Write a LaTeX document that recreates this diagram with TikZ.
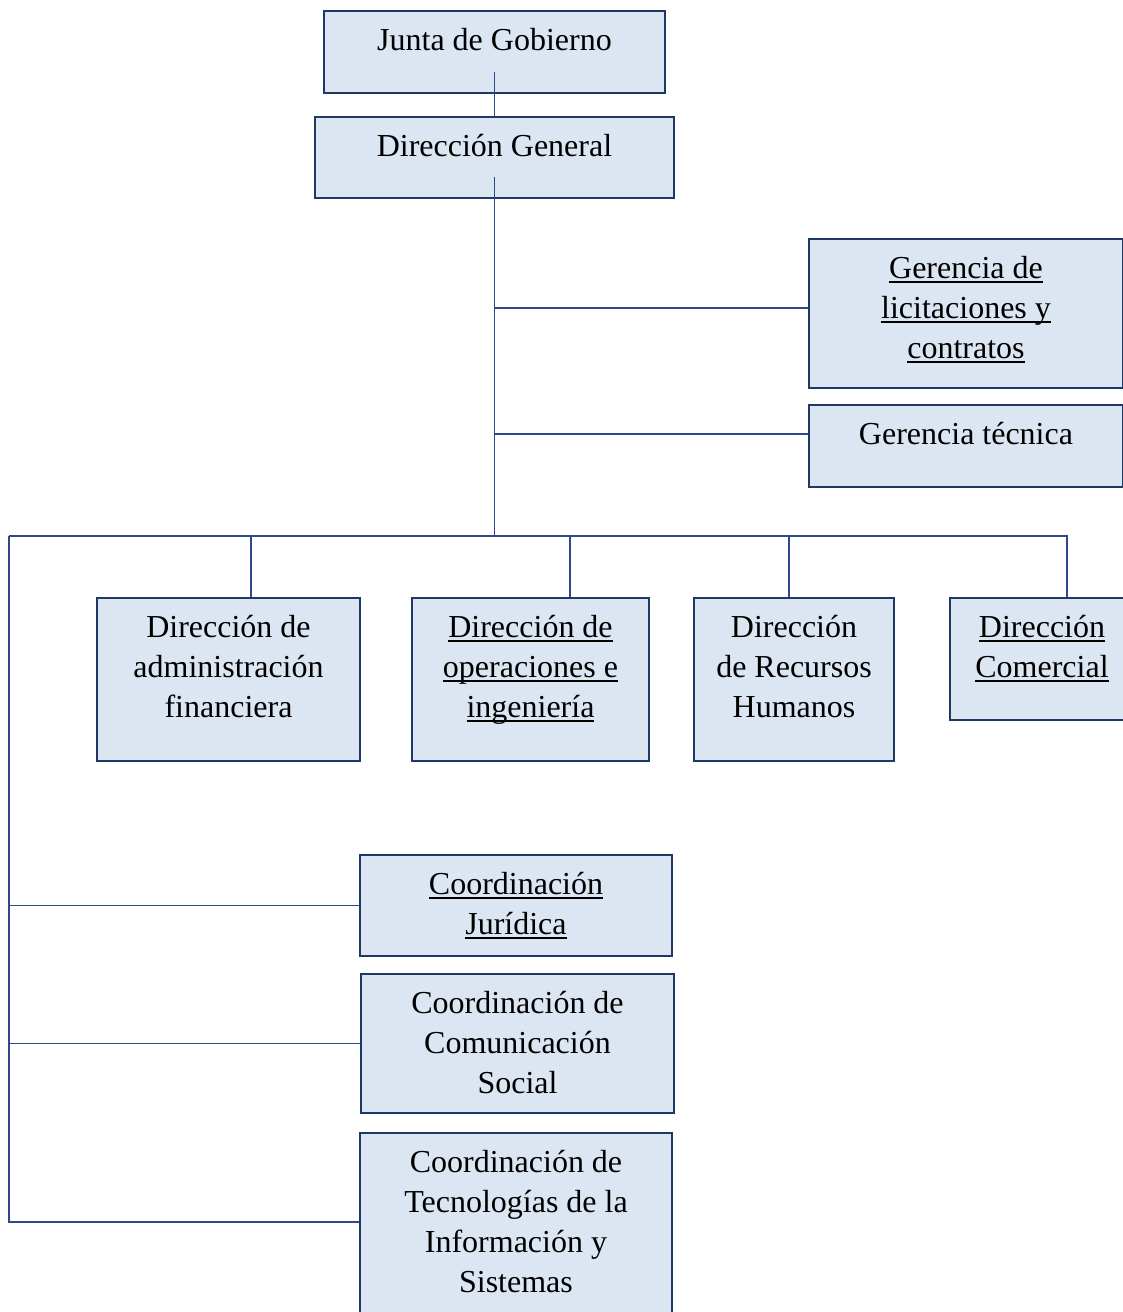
\documentclass[tikz,border=0pt]{standalone}
\usepackage{fontspec}
\setmainfont{Liberation Serif}
\usepackage{tikz}
\definecolor{boxfill}{RGB}{220,230,242}
\definecolor{boxdraw}{RGB}{31,56,100}
\definecolor{linkcol}{RGB}{47,72,140}
\newcommand{\ulin}[1]{\leavevmode\setbox0\hbox{#1}\rlap{\rule[-2.5pt]{\wd0}{0.9pt}}\box0}
\tikzset{orgbox/.style={draw=boxdraw,fill=boxfill,line width=1pt,anchor=north west,align=flush center,
    inner xsep=2pt,inner ysep=7pt,text height=12.5pt,font=\fontsize{16}{20}\selectfont}}
\tikzset{link/.style={draw=linkcol,line width=0.7pt}}

\begin{document}
\begin{tikzpicture}[x=0.5pt,y=-0.5pt]
\useasboundingbox (0,0) rectangle (1123,1312);
% top of the chart
\node[orgbox,text width=166.5pt,text depth=14.5pt] (jg) at (323,10) {Junta de Gobierno};
\node[orgbox,text width=175.5pt,text depth=14pt] (dg) at (314,116) {Dirección General};
\node[orgbox,text width=153pt,text depth=48pt] (gl) at (808,238)
    {\ulin{Gerencia de}\\\ulin{licitaciones y}\\\ulin{contratos}};
\node[orgbox,text width=153pt,text depth=14.5pt] (gt) at (808,404) {Gerencia técnica};
% direcciones
\node[orgbox,text width=127.5pt,text depth=55pt] (daf) at (96,597)
    {Dirección de\\administración\\financiera};
\node[orgbox,text width=114.5pt,text depth=55pt] (dop) at (411,597)
    {\ulin{Dirección de}\\\ulin{operaciones e}\\\ulin{ingeniería}};
\node[orgbox,text width=96pt,text depth=55pt] (drh) at (693,597)
    {Dirección\\de Recursos\\Humanos};
\node[orgbox,text width=88pt,text depth=34.5pt] (dc) at (949,597)
    {\ulin{Dirección}\\\ulin{Comercial}};
% coordinaciones
\node[orgbox,text width=152pt,text depth=24pt] (cj) at (359,854)
    {\ulin{Coordinación}\\\ulin{Jurídica}};
\node[orgbox,text width=152.5pt,text depth=43pt] (cc) at (360,973)
    {Coordinación de\\Comunicación\\Social};
\node[orgbox,text width=152pt,text depth=67.5pt] (cti) at (359,1132)
    {Coordinación de\\Tecnologías de la\\Información y\\Sistemas};

\coordinate (bus) at (dg.south |- 0,536);
\coordinate (busl) at (9,536);

\draw[link] ([yshift=11pt]jg.south) -- (dg.north);
\draw[link] ([yshift=11pt]dg.south) -- (bus);
\draw[link] ([yshift=2.75pt]gl.west) -| (bus);
\draw[link] ([yshift=6pt]gt.west) -| (bus);
\draw[link] (bus) -- (busl);
\draw[link] ([xshift=11.25pt]daf.north) |- (bus);
\draw[link] ([xshift=19.75pt]dop.north) |- (bus);
\draw[link] ([xshift=-2.5pt]drh.north) |- (bus);
\draw[link] ([xshift=12.5pt]dc.north) |- (bus);
\draw[link] (cj.west) -| (busl);
\draw[link] (cc.west) -| (busl);
\draw[link] ([yshift=2.5pt]cti.west) -| (busl);
\end{tikzpicture}
\end{document}
